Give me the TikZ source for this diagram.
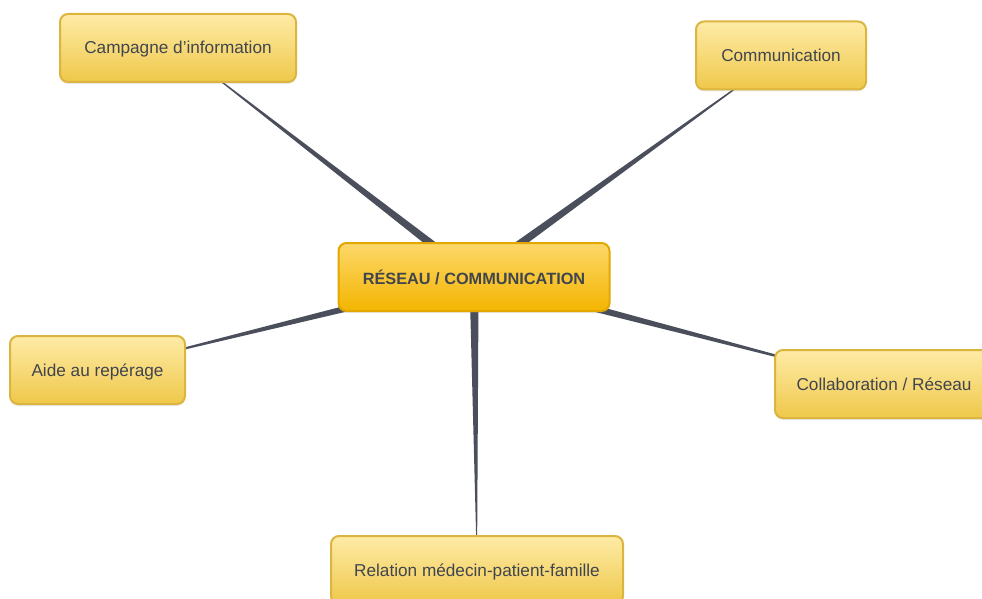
\documentclass[tikz,border=0pt]{standalone}
\usepackage{fontspec}
\setmainfont{Liberation Sans}
\usetikzlibrary{calc,shadows,backgrounds}
\definecolor{link-gray}{HTML}{4A4F5B}
\definecolor{text-gray}{HTML}{41454E}
\definecolor{topic-top}{HTML}{FDD86A}
\definecolor{topic-bottom}{HTML}{F3B500}
\definecolor{topic-border}{HTML}{E2A700}
\definecolor{leaf-top}{HTML}{FEEBA6}
\definecolor{leaf-bottom}{HTML}{EFC84A}
\definecolor{leaf-border}{HTML}{DCB53F}
\tikzset{
    topic-box/.style = {draw=topic-border, line width=2pt, rectangle, rounded corners=8pt, top color=topic-top, bottom color=topic-bottom, text=text-gray, font=\fontsize{16.3}{19}\bfseries\selectfont, minimum width=271pt, minimum height=68pt, drop shadow={shadow xshift=0pt, shadow yshift=-2pt, opacity=0.18}},
    leaf-box/.style = {draw=leaf-border, line width=2pt, rectangle, rounded corners=8pt, top color=leaf-top, bottom color=leaf-bottom, text=text-gray, font=\fontsize{17.2}{19}\selectfont, text height=14pt, text depth=2pt, minimum height=68pt, drop shadow={shadow xshift=0pt, shadow yshift=-2pt, opacity=0.18}},
}
\newcommand{\taperlink}[2]{\fill[link-gray] ($(#1)!4.6pt!90:(#2)$) -- (#2) -- ($(#1)!4.6pt!-90:(#2)$) -- cycle;}

\begin{document}
\begin{tikzpicture}[x=1pt,y=-1pt]
\useasboundingbox (0,0) rectangle (982,599);
\node [topic-box] (network) at (474,277) {RÉSEAU / COMMUNICATION};
\node [leaf-box, minimum width=236pt] (campaign) at (178,48) {Campagne d'information};
\node [leaf-box, minimum width=170pt] (communication) at (781,55.5) {Communication};
\node [leaf-box, minimum width=175pt] (screening) at (97.5,370) {Aide au repérage};
\node [leaf-box, minimum width=218pt] (collaboration) at (884,384) {Collaboration / Réseau};
\node [leaf-box, minimum width=292pt] (relation) at (477,570) {Relation médecin-patient-famille};
% tapered links behind the boxes
\begin{scope}[on background layer]
\taperlink{network.center}{campaign.center}
\taperlink{network.center}{communication.center}
\taperlink{network.center}{screening.center}
\taperlink{network.center}{collaboration.center}
\taperlink{network.center}{relation.center}
\end{scope}
\end{tikzpicture}
\end{document}
